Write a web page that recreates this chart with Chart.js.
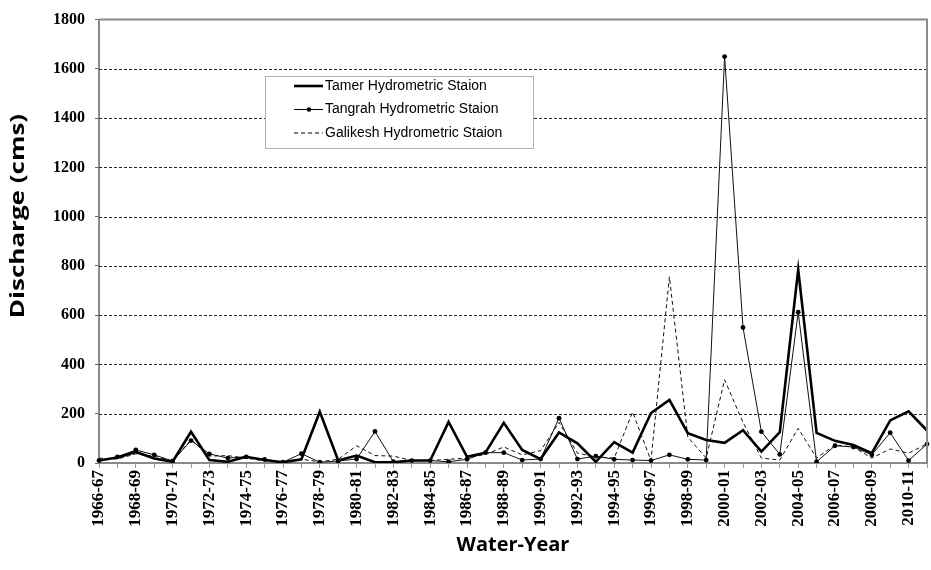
<!DOCTYPE html>
<html>
<head>
<meta charset="utf-8">
<script src="https://cdn.jsdelivr.net/npm/chart.js@4"></script>
<style>
  html, body { margin: 0; padding: 0; background: #fff; }
  #wrap { width: 931px; height: 570px; }
</style>
</head>
<body>
<div id="wrap"><canvas id="c" width="931" height="570"></canvas></div>
<script>
// water years 1966-67 .. 2011-12
const years = [];
for (let y = 1966; y <= 2011; y++) years.push(y + "-" + String((y + 1) % 100).padStart(2, "0"));

const tamer = [10, 22, 45, 18, 5, 127, 12, 5, 25, 12, 3, 15, 208, 10, 30, 3, 3, 10, 10, 167,
  25, 42, 163, 53, 16, 124, 80, 5, 85, 42, 203, 256, 121, 93, 82, 133, 46, 125, 785, 122,
  90, 73, 40, 173, 210, 132];
const tangrah = [10, 25, 53, 33, 8, 91, 37, 20, 25, 15, 3, 38, 3, 8, 16, 128, 5, 10, 10, 5,
  15, 42, 42, 12, 16, 182, 16, 28, 15, 12, 10, 33, 15, 12, 1650, 550, 127, 35, 612, 5,
  70, 65, 33, 123, 10, 77];
const galikesh = [20, 16, 37, 28, 8, 95, 28, 30, 20, 8, 3, 15, 5, 15, 70, 30, 28, 10, 10, 15,
  20, 35, 65, 33, 50, 165, 40, 25, 20, 207, 10, 756, 105, 20, 338, 165, 20, 12, 141, 20,
  73, 65, 20, 57, 40, 77];
const yTicks = [0, 200, 400, 600, 800, 1000, 1200, 1400, 1600, 1800];
const yTitle = "Discharge (cms)";

// dashed gridlines under the lines
const gridPlugin = {
  id: "dashGrid",
  beforeDatasetsDraw(chart) {
    const { ctx, chartArea: a, scales } = chart;
    ctx.save();
    ctx.strokeStyle = "#222";
    ctx.lineWidth = 1;
    ctx.setLineDash([3, 2]);
    yTicks.slice(1, -1).forEach(v => {
      const y = Math.round(scales.y.getPixelForValue(v)) + 0.5;
      ctx.beginPath();
      ctx.moveTo(a.left, y);
      ctx.lineTo(a.right, y);
      ctx.stroke();
    });
    ctx.restore();
  }
};

// frame, y title and legend drawn by hand, like the original spreadsheet chart
const framePlugin = {
  id: "frame",
  afterDraw(chart) {
    const { ctx, chartArea: a } = chart;
    ctx.save();
    ctx.strokeStyle = "#8a8a8a";
    ctx.lineWidth = 2;
    ctx.beginPath();
    ctx.moveTo(a.left, a.top);
    ctx.lineTo(a.right, a.top);
    ctx.lineTo(a.right, a.bottom);
    ctx.stroke();

    // y title (the original is stretched along its length)
    ctx.save();
    ctx.translate(18, 216);
    ctx.rotate(-Math.PI / 2);
    ctx.scale(1.3, 1);
    ctx.font = "bold 20px 'Open Sans', sans-serif";
    ctx.fillStyle = "#000";
    ctx.textAlign = "center";
    ctx.textBaseline = "middle";
    ctx.fillText(yTitle, 0, 0);
    ctx.restore();

    // legend box
    const bx = 265, by = 76, bw = 268, bh = 72;
    ctx.fillStyle = "#fff";
    ctx.fillRect(bx, by, bw, bh);
    ctx.strokeStyle = "#b0b0b0";
    ctx.lineWidth = 1;
    ctx.strokeRect(bx + 0.5, by + 0.5, bw, bh);
    ctx.font = "14px 'Liberation Sans', Arial, sans-serif";
    ctx.textBaseline = "middle";
    chart.data.datasets.forEach((ds, i) => {
      const yy = by + 10 + i * 23.5;
      ctx.strokeStyle = "#000";
      ctx.lineWidth = ds.borderWidth;
      ctx.setLineDash(ds.borderDash || []);
      ctx.beginPath();
      ctx.moveTo(294, yy);
      ctx.lineTo(323, yy);
      ctx.stroke();
      ctx.setLineDash([]);
      if (ds.pointRadius > 0) {
        ctx.fillStyle = "#000";
        ctx.beginPath();
        ctx.arc(309, yy, 2.2, 0, Math.PI * 2);
        ctx.fill();
      }
      ctx.fillStyle = "#000";
      ctx.fillText(ds.label, 325, yy);
    });
    ctx.restore();
  }
};

new Chart(document.getElementById("c"), {
  type: "line",
  data: {
    labels: years,
    datasets: [
      { label: "Tamer Hydrometric Staion", data: tamer, borderColor: "#000", borderWidth: 2.6,
        pointRadius: 0, tension: 0 },
      { label: "Tangrah Hydrometric Staion", data: tangrah, borderColor: "#111", borderWidth: 1,
        pointRadius: 2.4, pointBackgroundColor: "#000", pointBorderWidth: 0, tension: 0 },
      { label: "Galikesh Hydrometric Staion", data: galikesh, borderColor: "#111", borderWidth: 1,
        borderDash: [4, 3], pointRadius: 0, tension: 0 }
    ]
  },
  options: {
    responsive: false,
    animation: false,
    layout: { padding: { top: 18, right: 4, left: 0, bottom: 0 } },
    plugins: { legend: { display: false }, tooltip: { enabled: false } },
    scales: {
      x: {
        offset: false,
        afterFit: s => { s.height = 107; s.paddingLeft = 0; s.paddingRight = 0; },
        grid: { drawOnChartArea: false, drawTicks: true, tickLength: 5, color: "#9a9a9a" },
        border: { color: "#8a8a8a", width: 2 },
        ticks: {
          autoSkip: false, maxRotation: 90, minRotation: 90, padding: 2, color: "#000",
          font: { family: "'Liberation Serif', 'Times New Roman', serif", size: 17, weight: "bold" },
          callback: (v, i) => (i % 2 === 0 ? years[i] : "")
        },
        title: {
          display: true, text: "Water-Year", color: "#000",
          font: { family: "'Open Sans', sans-serif", size: 20, weight: "bold" },
          padding: { top: 0, bottom: 13 }
        }
      },
      y: {
        min: 0, max: 1800,
        afterFit: s => { s.width = 99; },
        afterBuildTicks: s => { s.ticks = yTicks.map(v => ({ value: v })); },
        grid: { drawOnChartArea: false, tickLength: 4, color: "#666" },
        border: { color: "#8a8a8a", width: 2 },
        ticks: {
          color: "#000", padding: 10,
          callback: v => String(v),
          font: { family: "'Liberation Serif', 'Times New Roman', serif", size: 16, weight: "bold" }
        }
      }
    }
  },
  plugins: [gridPlugin, framePlugin]
});
</script>
</body>
</html>
